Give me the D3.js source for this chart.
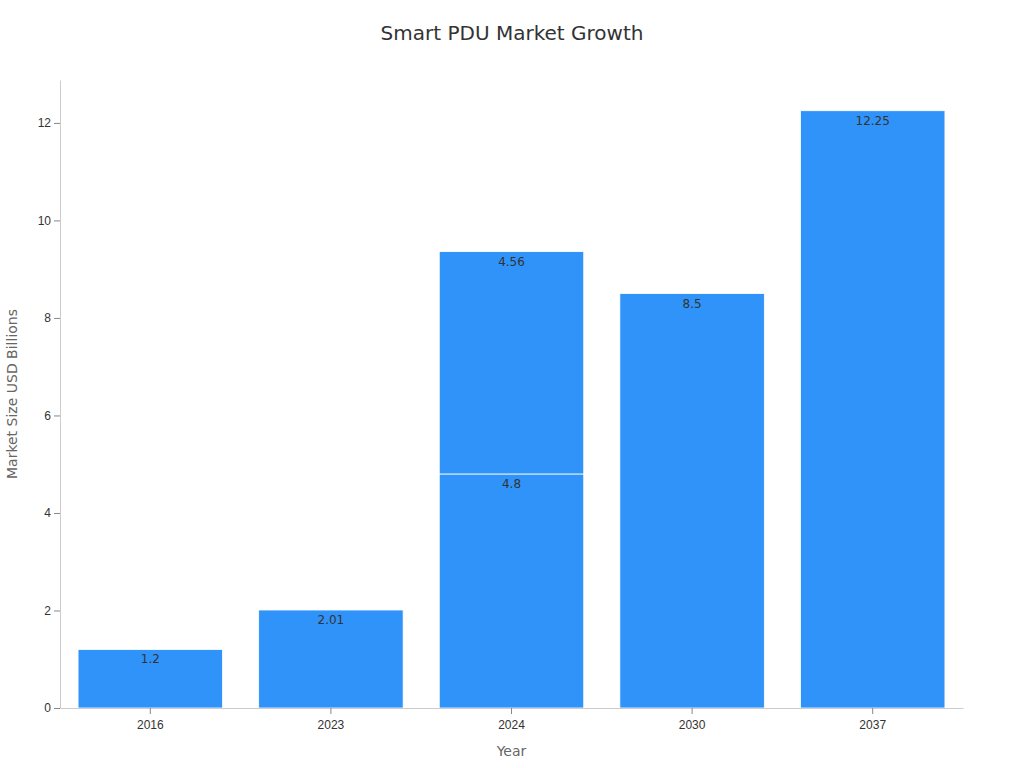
<!DOCTYPE html>
<html><head><meta charset="utf-8">
<script src="https://cdnjs.cloudflare.com/ajax/libs/d3/7.8.5/d3.min.js"></script>
<style>
  body { margin: 0; background: #fff; font-family: "DejaVu Sans", sans-serif; }
  .tick text { font-size: 12px; fill: #333; }
  .tick line { stroke: #888; }
  .domain { stroke: #ccc; }
</style></head>
<body><div id="chart"></div>
<script>
var years = ["2016", "2023", "2024", "2030", "2037"];
var baseValues = [1.2, 2.01, 4.8, 8.5, 12.25];
var extraValues = [0, 0, 4.56, 0, 0];
var yTicks = [0, 2, 4, 6, 8, 10, 12];

var width = 1024, height = 768,
    margin = {top: 80, right: 61, bottom: 60, left: 60};

var svg = d3.select("#chart").append("svg")
    .attr("width", width).attr("height", height);

var x = d3.scaleBand().domain(years)
    .range([margin.left, width - margin.right])
    .paddingInner(0.2).paddingOuter(0.1);
var y = d3.scaleLinear().domain([0, 12.88])
    .range([height - margin.bottom, margin.top]);

var rows = years.map(function(yr, i) {
  return {year: yr, base: baseValues[i], extra: extraValues[i]};
});
var stack = d3.stack().keys(["base", "extra"])(rows);

stack.forEach(function(layer) {
  var g = svg.append("g");
  var seg = g.selectAll("g").data(layer.filter(function(d) { return d[1] > d[0]; }))
    .enter().append("g");
  seg.append("rect")
    .attr("x", function(d) { return x(d.data.year); })
    .attr("y", function(d) { return y(d[1]); })
    .attr("width", x.bandwidth())
    .attr("height", function(d) { return y(d[0]) - y(d[1]); })
    .attr("fill", "#2f93f9")
    .attr("stroke", "#fff").attr("stroke-width", 0.8);
  seg.append("text")
    .attr("x", function(d) { return x(d.data.year) + x.bandwidth() / 2; })
    .attr("y", function(d) { return y(d[1]) + 14; })
    .attr("text-anchor", "middle")
    .style("font-size", "12px").style("fill", "#333")
    .text(function(d) { return +(d[1] - d[0]).toFixed(2); });
});

svg.append("g")
  .attr("transform", "translate(0," + (height - margin.bottom) + ")")
  .call(d3.axisBottom(x).tickSizeOuter(0))
  .call(function(g) { g.selectAll(".tick text").attr("dy", "1em"); });

svg.append("g")
  .attr("transform", "translate(" + margin.left + ",0)")
  .call(d3.axisLeft(y).tickValues(yTicks).tickSizeOuter(0));

svg.append("text")
  .attr("x", width / 2).attr("y", 40)
  .attr("text-anchor", "middle")
  .style("font-size", "20px").style("fill", "#333")
  .text("Smart PDU Market Growth");

svg.append("text")
  .attr("x", (margin.left + width - margin.right) / 2).attr("y", 756)
  .attr("text-anchor", "middle")
  .style("font-size", "14px").style("fill", "#666")
  .text("Year");

svg.append("text")
  .attr("transform", "translate(17," + ((margin.top + height - margin.bottom) / 2) + ") rotate(-90)")
  .attr("text-anchor", "middle")
  .style("font-size", "14px").style("fill", "#666")
  .text("Market Size USD Billions");
</script></body></html>
